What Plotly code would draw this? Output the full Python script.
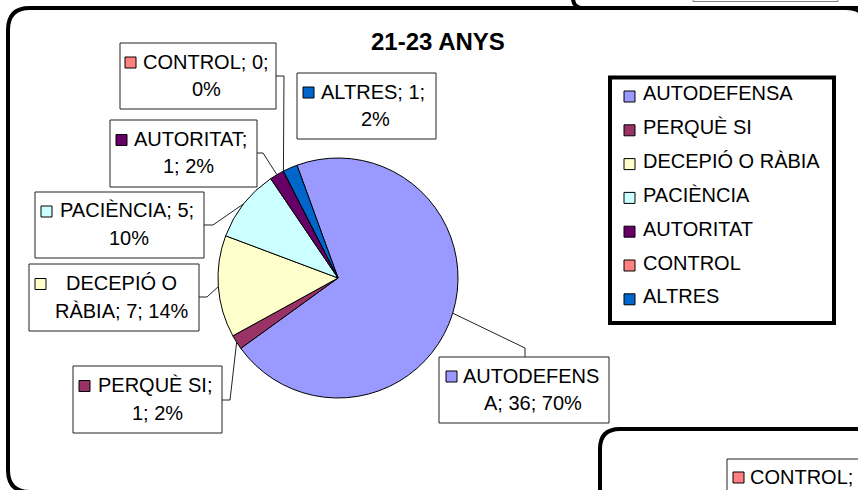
import math
import plotly.graph_objects as go

W, H = 858, 490

# ---- data -------------------------------------------------------------
categories = ["AUTODEFENSA", "PERQUÈ SI", "DECEPIÓ O RÀBIA", "PACIÈNCIA",
              "AUTORITAT", "CONTROL", "ALTRES"]
counts = [36, 1, 7, 5, 1, 0, 1]
percent_labels = [70, 2, 14, 10, 2, 0, 2]
colors = ["#9999FF", "#993366", "#FFFFCC", "#CCFFFF", "#660066", "#FF8080", "#0066CC"]
title_text = "21-23 ANYS"

# ---- layout (pixel units) ---------------------------------------------
FONT = "Liberation Sans, Arial, sans-serif"
PIE_CX, PIE_CY, PIE_R = 338, 278, 120
ROTATION = -20

# data-label boxes: box rect, split index of the label string, square x,
# first-line left x, second-line centre x, leader line (box side, elbow)
label_layout = {
    "AUTODEFENSA":     dict(box=(439, 357, 609, 423), brk=10, sq=446, t1=463, c2=533,
                            leader=[(525, 357), (525, 348)]),
    "PERQUÈ SI":       dict(box=(73, 366, 222, 433), brk=10, sq=79, t1=98, c2=157,
                            leader=[(222, 400), (230, 400)]),
    "DECEPIÓ O RÀBIA": dict(box=(29, 264, 199, 331), brk=9, sq=35, t1=66, c2=122,
                            leader=[(199, 297), (207, 297)]),
    "PACIÈNCIA":       dict(box=(35, 192, 204, 258), brk=13, sq=41, t1=60, c2=129,
                            leader=[(204, 225), (213, 225)]),
    "AUTORITAT":       dict(box=(110, 120, 257, 187), brk=10, sq=116, t1=134, c2=188,
                            leader=[(257, 153), (263, 153)]),
    "CONTROL":         dict(box=(120, 43, 276, 109), brk=11, sq=125, t1=143, c2=206,
                            leader=[(276, 76), (284, 76)]),
    "ALTRES":          dict(box=(297, 73, 436, 139), brk=10, sq=303, t1=321, c2=375,
                            leader=None),
}

LEGEND_BOX = (610, 77.5, 834, 323)
LEGEND_SQ_X, LEGEND_TEXT_X = 624, 643
LEGEND_Y0, LEGEND_STEP = 93.5, 33.8


def X(px):
    return px / W


def Y(py):
    return 1 - py / H


def rect(x0, y0, x1, y1, line_color="black", line_width=1, fill=None):
    return dict(type="rect", xref="paper", yref="paper",
                x0=X(x0), x1=X(x1), y0=Y(y1), y1=Y(y0),
                line=dict(color=line_color, width=line_width),
                fillcolor=fill if fill else "rgba(0,0,0,0)", layer="above")


def path_shape(cmds, line_color="black", line_width=1, fill=None):
    parts = []
    for c, pts in cmds:
        coords = " ".join(f"{X(px):.5f},{Y(py):.5f}" for px, py in pts)
        parts.append(f"{c} {coords}".strip())
    return dict(type="path", xref="paper", yref="paper", path=" ".join(parts),
                line=dict(color=line_color, width=line_width),
                fillcolor=fill if fill else "rgba(0,0,0,0)", layer="above")


def polyline(pts, **kw):
    cmds = [("M", [pts[0]])] + [("L", [p]) for p in pts[1:]]
    return path_shape(cmds, **kw)


def rounded_rect(x0, y0, x1, y1, r, **kw):
    cmds = [("M", [(x0 + r, y0)]), ("L", [(x1 - r, y0)]), ("Q", [(x1, y0), (x1, y0 + r)]),
            ("L", [(x1, y1 - r)]), ("Q", [(x1, y1), (x1 - r, y1)]),
            ("L", [(x0 + r, y1)]), ("Q", [(x0, y1), (x0, y1 - r)]),
            ("L", [(x0, y0 + r)]), ("Q", [(x0, y0), (x0 + r, y0)]), ("Z", [])]
    return path_shape(cmds, **kw)


def text(px, py, s, size=20, anchor="left", bold=False):
    return dict(xref="paper", yref="paper", x=X(px), y=Y(py), text=f"<b>{s}</b>" if bold else s,
                showarrow=False, xanchor=anchor, yanchor="middle",
                borderpad=0, borderwidth=0,
                font=dict(family=FONT, size=size, color="black"))


fig = go.Figure(go.Pie(
    labels=categories, values=counts, sort=False, direction="clockwise",
    rotation=ROTATION, marker=dict(colors=colors, line=dict(color="black", width=1)),
    textinfo="none", hoverinfo="label+value+percent", showlegend=False,
    domain=dict(x=[X(PIE_CX - PIE_R), X(PIE_CX + PIE_R)],
                y=[Y(PIE_CY + PIE_R), Y(PIE_CY - PIE_R)]),
))

shapes = []
annotations = []

# chart frame and neighbouring frames
shapes.append(rounded_rect(8, 8, 868, 492, 22, line_width=4))
shapes.append(path_shape([("M", [(573, -20)]), ("L", [(573, -2)]),
                          ("Q", [(573, 8), (583, 8)]), ("L", [(858, 8)])], line_width=4))
shapes.append(rect(693, -10, 838, 1.5, line_color="#808080"))
shapes.append(rounded_rect(600, 429, 920, 560, 20, line_width=4, fill="white"))
shapes.append(rect(727, 459, 920, 540, line_color="#222222", fill="white"))
shapes.append(rect(733, 472, 744, 483, fill=colors[categories.index("CONTROL")]))
annotations.append(text(750, 477, "CONTROL; 0;"))

# slice mid-angles for the leader lines
total = sum(counts)
cum = 0
mid_point = {}
for cat, v in zip(categories, counts):
    ang = math.radians(ROTATION + 360 * (cum + v / 2) / total)
    mid_point[cat] = (PIE_CX + PIE_R * math.sin(ang), PIE_CY - PIE_R * math.cos(ang))
    cum += v

# data labels
for cat, v, pct, col in zip(categories, counts, percent_labels, colors):
    lay = label_layout[cat]
    x0, y0, x1, y1 = lay["box"]
    if lay["leader"]:
        shapes.append(polyline(lay["leader"] + [mid_point[cat]], line_color="#222222"))
    shapes.append(rect(x0, y0, x1, y1, line_color="#222222", fill="white"))
    full = f"{cat}; {v}; {pct}%"
    line1, line2 = full[:lay["brk"]].rstrip(), full[lay["brk"]:].strip()
    yc = (y0 + y1) / 2
    l1y, l2y = yc - 14.5, yc + 13
    shapes.append(rect(lay["sq"], l1y - 4.5, lay["sq"] + 11, l1y + 6.5, fill=col))
    annotations.append(text(lay["t1"], l1y, line1))
    annotations.append(text(lay["c2"], l2y, line2, anchor="center"))

# legend
shapes.append(rect(*LEGEND_BOX, line_width=4, fill="white"))
for i, (cat, col) in enumerate(zip(categories, colors)):
    yy = LEGEND_Y0 + LEGEND_STEP * i
    shapes.append(rect(LEGEND_SQ_X, yy - 2.5, LEGEND_SQ_X + 11, yy + 8.5, fill=col))
    annotations.append(text(LEGEND_TEXT_X, yy, cat))

# title
annotations.append(text(438, 41, title_text, size=24, anchor="center", bold=True))

fig.update_layout(
    width=W, height=H, margin=dict(l=0, r=0, t=0, b=0),
    paper_bgcolor="white", plot_bgcolor="white",
    shapes=shapes, annotations=annotations, showlegend=False,
)

fig.write_html("out.html")
